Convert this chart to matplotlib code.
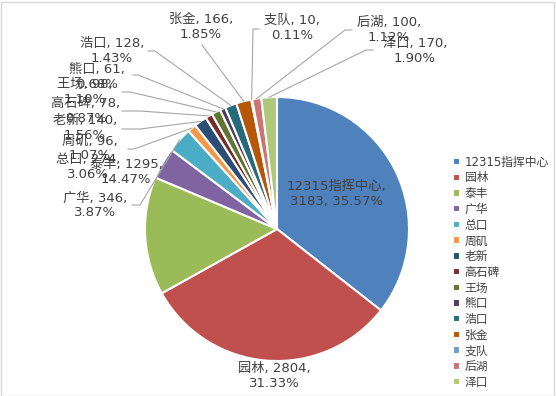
import numpy as np
import matplotlib
matplotlib.use("Agg")
import matplotlib.pyplot as plt

plt.rcParams['font.family'] = ['DejaVu Sans', 'Noto Sans CJK SC']

# data
names = ['12315指挥中心', '园林', '泰丰', '广华', '总口', '周矶', '老新', '高石碑',
         '王场', '熊口', '浩口', '张金', '支队', '后湖', '泽口']
counts = [3183, 2804, 1295, 346, 274, 96, 140, 78, 98, 61, 128, 166, 10, 100, 170]

colors = ['#4F81BD', '#C0504D', '#9BBB59', '#8064A2', '#4BACC6', '#F79646',
          '#2C4D75', '#772C2A', '#5F7530', '#4D3B62', '#276A7C', '#B65708',
          '#729ACA', '#CD7371', '#AFC97A']

# label centres in pixels (y down), as placed in the original
label_pos = [(336, 194), (274, 376), (126, 172), (95, 205), (88, 167), (90, 148),
             (85, 128), (86, 111), (85, 92), (97, 77), (112, 51), (201, 27),
             (292, 28), (389, 30), (415, 51)]
# leader line start and elbow (None = no line)
leaders = [None, None, None, None,
           ((132, 205), (140, 205)),
           ((128, 149), (134, 149)),
           ((122, 129), (140, 129)),
           ((122, 111), (140, 111)),
           ((122, 92), (130, 92)),
           ((133, 75), (138, 75)),
           ((148, 51), (155, 51)),
           ((202, 45), (202, 45)),
           ((259, 29), (253, 29)),
           ((352, 30), (345, 30)),
           ((373, 50), (366, 50))]

W, H = 556, 396
fig = plt.figure(figsize=(W / 100, H / 100), dpi=100)
ax = fig.add_axes([0, 0, 1, 1])

cx, cy, r = 277, 229, 132
wedges, _ = ax.pie(counts, colors=colors, center=(cx, cy), radius=r,
                   startangle=-90, counterclock=True,
                   wedgeprops=dict(edgecolor='white', linewidth=1.5))
ax.set_xlim(0, W)
ax.set_ylim(H, 0)
ax.set_aspect('equal')
ax.axis('off')

total = sum(counts)
txt_color = '#404040'
for i, (nm, v) in enumerate(zip(names, counts)):
    pct = v / total * 100
    x, y = label_pos[i]
    if i == 0:
        s = f"{nm},\n{v}, {pct:.2f}%"
    else:
        s = f"{nm}, {v},\n{pct:.2f}%"
    ax.text(x, y, s, ha='center', va='center',
            multialignment='center', fontsize=9.5, color=txt_color,
            linespacing=1.15, zorder=5)
    if leaders[i] is not None:
        w = wedges[i]
        th = np.deg2rad((w.theta1 + w.theta2) / 2)
        ex, ey = cx + r * np.cos(th), cy + r * np.sin(th)
        (ax0, ay0), (ax1, ay1) = leaders[i]
        ax.plot([ax0, ax1, ex], [ay0, ay1, ey], color='#A6A6A6', lw=0.8,
                zorder=1)

ax.legend(wedges, names, loc='upper left',
          bbox_to_anchor=(448 / W, 1 - 151 / H), bbox_transform=fig.transFigure,
          frameon=False, fontsize=8.5, labelcolor=txt_color,
          handlelength=0.6, handleheight=0.6, handletextpad=0.4,
          labelspacing=0.23, borderaxespad=0)

# light grey chart border
fig.patches.append(plt.Rectangle((0.5 / W, 0.5 / H), 1 - 2.5 / W, 1 - 2.5 / H,
                                 transform=fig.transFigure, fill=False,
                                 edgecolor='#D9D9D9', lw=1))

fig.savefig('out.png', dpi=100)
